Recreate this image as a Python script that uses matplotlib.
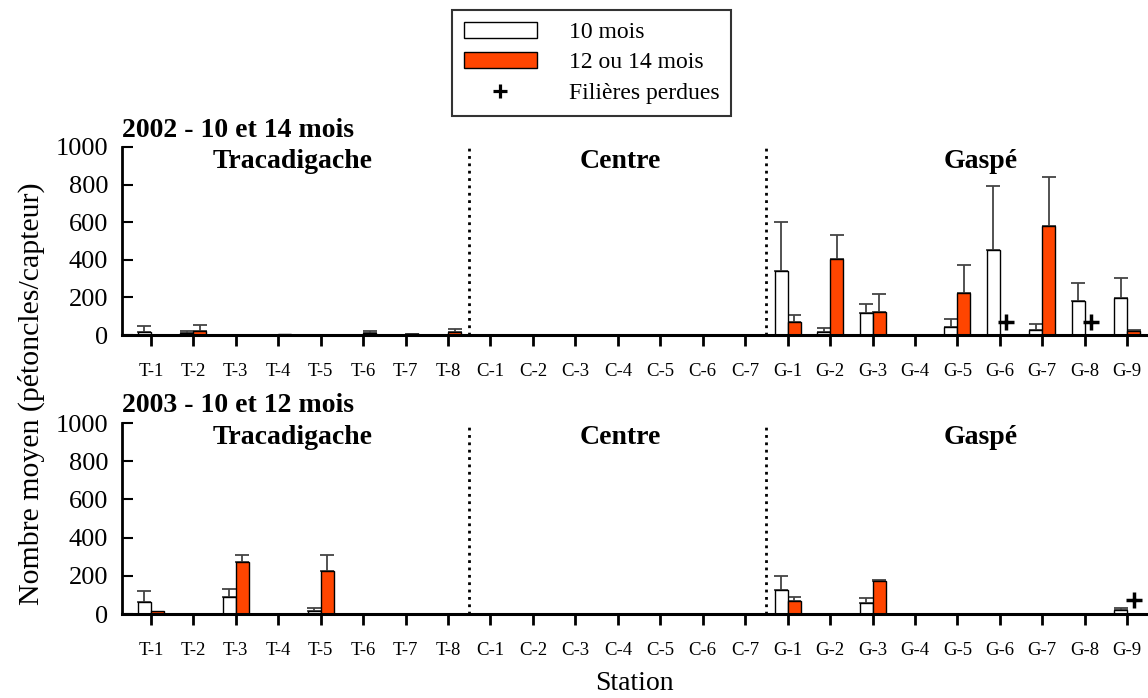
import numpy as np
import matplotlib
matplotlib.use('Agg')
import matplotlib.pyplot as plt
from matplotlib.patches import Patch
from matplotlib.lines import Line2D

plt.rcParams['font.family'] = ['Liberation Serif', 'DejaVu Serif']

# Stations
stations = ([f'T-{i}' for i in range(1, 9)] + [f'C-{i}' for i in range(1, 8)]
            + [f'G-{i}' for i in range(1, 10)])
zeros_c = [0] * 7

# 2002 - 10 et 14 mois
w02 = [18, 11, 0, 0, 0, 0, 0, 2] + zeros_c + [340, 18, 115, 0, 41, 452, 25, 179, 197]
w02_err = [30, 12, 0, 0, 0, 0, 0, 0] + zeros_c + [261, 21, 48, 0, 44, 341, 35, 96, 106]
r02 = [0, 23, 0, 5, 0, 12, 4, 16] + zeros_c + [69, 404, 121, 0, 223, 0, 580, 0, 21]
r02_err = [0, 32, 0, 0, 0, 12, 4, 16] + zeros_c + [37, 126, 99, 0, 149, 0, 259, 0, 6]
lost02 = ['G-6', 'G-8']

# 2003 - 10 et 12 mois
w03 = [63, 0, 89, 0, 17, 0, 0, 0] + zeros_c + [128, 0, 56, 0, 0, 0, 0, 0, 19]
w03_err = [56, 0, 41, 0, 16, 0, 0, 0] + zeros_c + [73, 0, 26, 0, 0, 0, 0, 0, 11]
r03 = [16, 0, 273, 0, 225, 0, 0, 0] + zeros_c + [70, 0, 173, 0, 0, 0, 0, 0, 0]
r03_err = [0, 0, 38, 0, 84, 0, 0, 0] + zeros_c + [17, 0, 7, 0, 0, 0, 0, 0, 0]
lost03 = ['G-9']

panels = [
    ('2002 - 10 et 14 mois', w02, w02_err, r02, r02_err, lost02),
    ('2003 - 10 et 12 mois', w03, w03_err, r03, r03_err, lost03),
]
regions = ['Tracadigache', 'Centre', 'Gaspé']
region_x = [3.35, 11.07, 19.55]

RED = '#FF4500'
bw = 0.306
x = np.arange(len(stations))

fig = plt.figure(figsize=(11.48, 6.98), dpi=100)
ax_rects = [[0.1063, 0.520, 0.8937, 0.2694], [0.1063, 0.1203, 0.8937, 0.2736]]

for rect, (title, w, we, r, re, lost) in zip(ax_rects, panels):
    ax = fig.add_axes(rect)
    w = np.array(w, float); we = np.array(we, float)
    r = np.array(r, float); re = np.array(re, float)

    ax.bar(x - bw / 2, w, bw, color='white', edgecolor='black', lw=1, zorder=2)
    ax.bar(x + bw / 2, r, bw, color=RED, edgecolor='black', lw=1, zorder=2)

    # upper error bars only
    for xs, vals, errs in [(x - bw / 2, w, we), (x + bw / 2, r, re)]:
        m = errs > 0
        ax.errorbar(xs[m], vals[m], yerr=[np.zeros(m.sum()), errs[m]], fmt='none',
                    ecolor='#444444', elinewidth=1.3, capsize=4.7, capthick=1.3, zorder=1)

    # lost lines
    lx = [stations.index(s) + bw / 2 for s in lost]
    ax.plot(lx, [72] * len(lx), ls='none', marker='+', ms=12, mew=2.5, color='black', zorder=3)

    for xv in [7.5, 14.5]:
        ax.plot([xv, xv], [0, 1000], ls=':', lw=2, color='black', zorder=1)

    for name, rx in zip(regions, region_x):
        ax.text(rx, 925, name, ha='center', va='center', fontsize=20, fontweight='bold')

    ax.text(0, 1.09, title, transform=ax.transAxes, ha='left', va='center',
            fontsize=20, fontweight='bold')

    ax.set_xlim(-0.68, 23.49)
    ax.set_ylim(0, 1000)
    ax.set_yticks([0, 200, 400, 600, 800, 1000])
    ax.set_xticks(x)
    ax.set_xticklabels(stations)
    ax.spines['top'].set_visible(False)
    ax.spines['right'].set_visible(False)
    ax.spines['left'].set_linewidth(2)
    ax.spines['bottom'].set_linewidth(2.2)
    ax.spines['bottom'].set_zorder(4)
    ax.tick_params(axis='x', direction='out', length=8, width=2, pad=12, labelsize=13.5)
    ax.tick_params(axis='y', direction='in', length=8, width=1.5, pad=10, labelsize=19)

fig.text(31 / 1148, 1 - 394 / 698, 'Nombre moyen (pétoncles/capteur)', rotation=90,
         ha='center', va='center', fontsize=21.5)
fig.text(634 / 1148, 1 - 684 / 698, 'Station', ha='center', va='center', fontsize=20)

handles = [
    Patch(facecolor='white', edgecolor='black', lw=1),
    Patch(facecolor=RED, edgecolor='black', lw=1),
    Line2D([], [], ls='none', marker='+', ms=10, mew=2.3, color='black'),
]
labels = ['10 mois', '12 ou 14 mois', 'Filières perdues']
leg = fig.legend(handles, labels, loc='upper center', bbox_to_anchor=(591.5 / 1148, 1 - 10 / 698),
                 fontsize=17, frameon=True, fancybox=False, handlelength=3.1, handleheight=0.65,
                 handletextpad=1.35, labelspacing=0.39, borderpad=0.5, borderaxespad=0)
leg.get_frame().set_edgecolor('black')
leg.get_frame().set_linewidth(1.5)

fig.savefig('out.png', dpi=100)
